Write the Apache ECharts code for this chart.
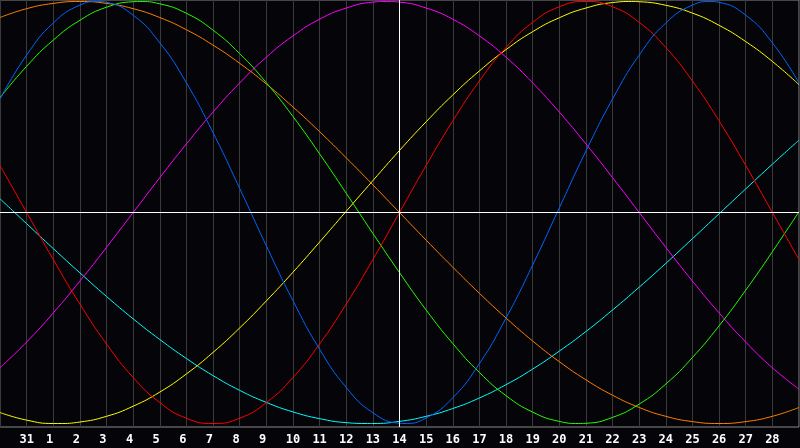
<!DOCTYPE html>
<html><head><meta charset="utf-8">
<script src="https://cdn.jsdelivr.net/npm/echarts@6/dist/echarts.min.js"></script>
<style>html,body{margin:0;padding:0;background:#050408;}#c{width:800px;height:448px;}</style>
</head><body><div id="c"></div>
<script>
// day labels for positions 0..30 (first and last are not printed)
const days = ['30','31','1','2','3','4','5','6','7','8','9','10','11','12','13','14','15','16','17','18','19','20','21','22','23','24','25','26','27','28','29'];

// daily values (position 0..30)
const orange = [0.924,0.966,0.991,1,0.991,0.966,0.924,0.866,0.793,0.707,0.609,0.5,0.383,0.259,0.131,0,-0.131,-0.259,-0.383,-0.5,-0.609,-0.707,-0.793,-0.866,-0.924,-0.966,-0.991,-1,-0.991,-0.966,-0.924];
const blue = [0.538,0.746,0.898,0.983,0.996,0.935,0.804,0.614,0.378,0.114,-0.158,-0.418,-0.648,-0.829,-0.949,-0.999,-0.974,-0.878,-0.716,-0.5,-0.249,0.022,0.291,0.538,0.746,0.898,0.983,0.996,0.935,0.804,0.614];
const green = [0.544,0.693,0.817,0.911,0.973,0.999,0.989,0.944,0.864,0.753,0.615,0.455,0.278,0.091,-0.099,-0.285,-0.462,-0.621,-0.758,-0.868,-0.946,-0.99,-0.999,-0.971,-0.908,-0.813,-0.687,-0.537,-0.368,-0.186,0.004];
const magenta = [-0.736,-0.614,-0.476,-0.325,-0.165,0,0.165,0.325,0.476,0.614,0.736,0.837,0.916,0.969,0.997,0.997,0.969,0.916,0.837,0.736,0.614,0.476,0.325,0.165,0,-0.165,-0.325,-0.476,-0.614,-0.736,-0.837];
const red = [0.223,0,-0.223,-0.434,-0.623,-0.782,-0.901,-0.975,-1,-0.975,-0.901,-0.782,-0.623,-0.434,-0.223,0,0.223,0.434,0.623,0.782,0.901,0.975,1,0.975,0.901,0.782,0.623,0.434,0.223,0,-0.223];
const yellow = [-0.948,-0.984,-1,-0.993,-0.966,-0.918,-0.851,-0.765,-0.663,-0.547,-0.419,-0.283,-0.14,0.006,0.151,0.294,0.43,0.557,0.671,0.772,0.857,0.923,0.969,0.995,0.999,0.982,0.945,0.887,0.81,0.716,0.606];
const cyan = [0.065,-0.053,-0.171,-0.286,-0.398,-0.504,-0.602,-0.692,-0.773,-0.843,-0.9,-0.945,-0.977,-0.996,-1,-0.99,-0.966,-0.929,-0.879,-0.816,-0.742,-0.657,-0.564,-0.462,-0.354,-0.241,-0.124,-0.006,0.112,0.229,0.343];

// peaks / troughs read between days: [position, value]
const blueExtrema = [[3.67,1],[15.17,-1],[26.67,1]];
const greenExtrema = [[5.23,1],[21.73,-1]];
const magentaExtrema = [[14.5,1]];
const yellowExtrema = [[2.21,-1],[23.71,1]];
const cyanExtrema = [[13.8,-1]];

const curves = [
  {name:'cyan', data:cyan, extra:cyanExtrema, color:'#00ffff'},
  {name:'yellow', data:yellow, extra:yellowExtrema, color:'#ffff00'},
  {name:'magenta', data:magenta, extra:magentaExtrema, color:'#ff00ff'},
  {name:'orange', data:orange, extra:[], color:'#ff8000'},
  {name:'green', data:green, extra:greenExtrema, color:'#22ff00'},
  {name:'red', data:red, extra:[], color:'#ff0000'},
  {name:'blue', data:blue, extra:blueExtrema, color:'#0066ff'}
];

function build(c) {
  const pts = c.data.map((v, i) => [i, v]).concat(c.extra);
  pts.sort((a, b) => a[0] - b[0]);
  return pts;
}

const chart = echarts.init(document.getElementById('c'));
const series = curves.map(c => ({
  name: c.name, type:'line', data:build(c), smooth:0.5, showSymbol:false,
  lineStyle:{color:c.color, width:1}, itemStyle:{color:c.color}, z:3, silent:true
}));
series.push({
  type:'line', data:[], silent:true, z:2,
  markLine:{symbol:'none', silent:true, animation:false, label:{show:false},
    lineStyle:{color:'#ffffff', width:1, type:'solid'},
    data:[{xAxis:15},{yAxis:0}]}
});
chart.setOption({
  backgroundColor:'#050408',
  animation:false,
  grid:{left:0, right:1, top:0, bottom:21, containLabel:false, outerBoundsMode:'none',
    show:true, borderColor:'#8a8a8a', borderWidth:1, backgroundColor:'transparent'},
  xAxis:{type:'value', min:0, max:30, interval:1,
    axisLine:{show:false}, axisTick:{show:false},
    splitLine:{show:true, lineStyle:{color:'#3a3a3a', width:1}},
    axisLabel:{color:'#ffffff', fontFamily:'DejaVu Sans Mono', fontWeight:'bold', fontSize:12, margin:7,
      formatter: v => {
        const i = Math.round(v);
        if (i <= 0 || i >= days.length - 1) return '';
        const s = days[i];
        return s.length === 1 ? s + ' ' : s;
      }}
  },
  yAxis:{type:'value', min:-1.0166, max:1.0071, show:false, splitLine:{show:false}},
  series: series
});
</script>
</body></html>
